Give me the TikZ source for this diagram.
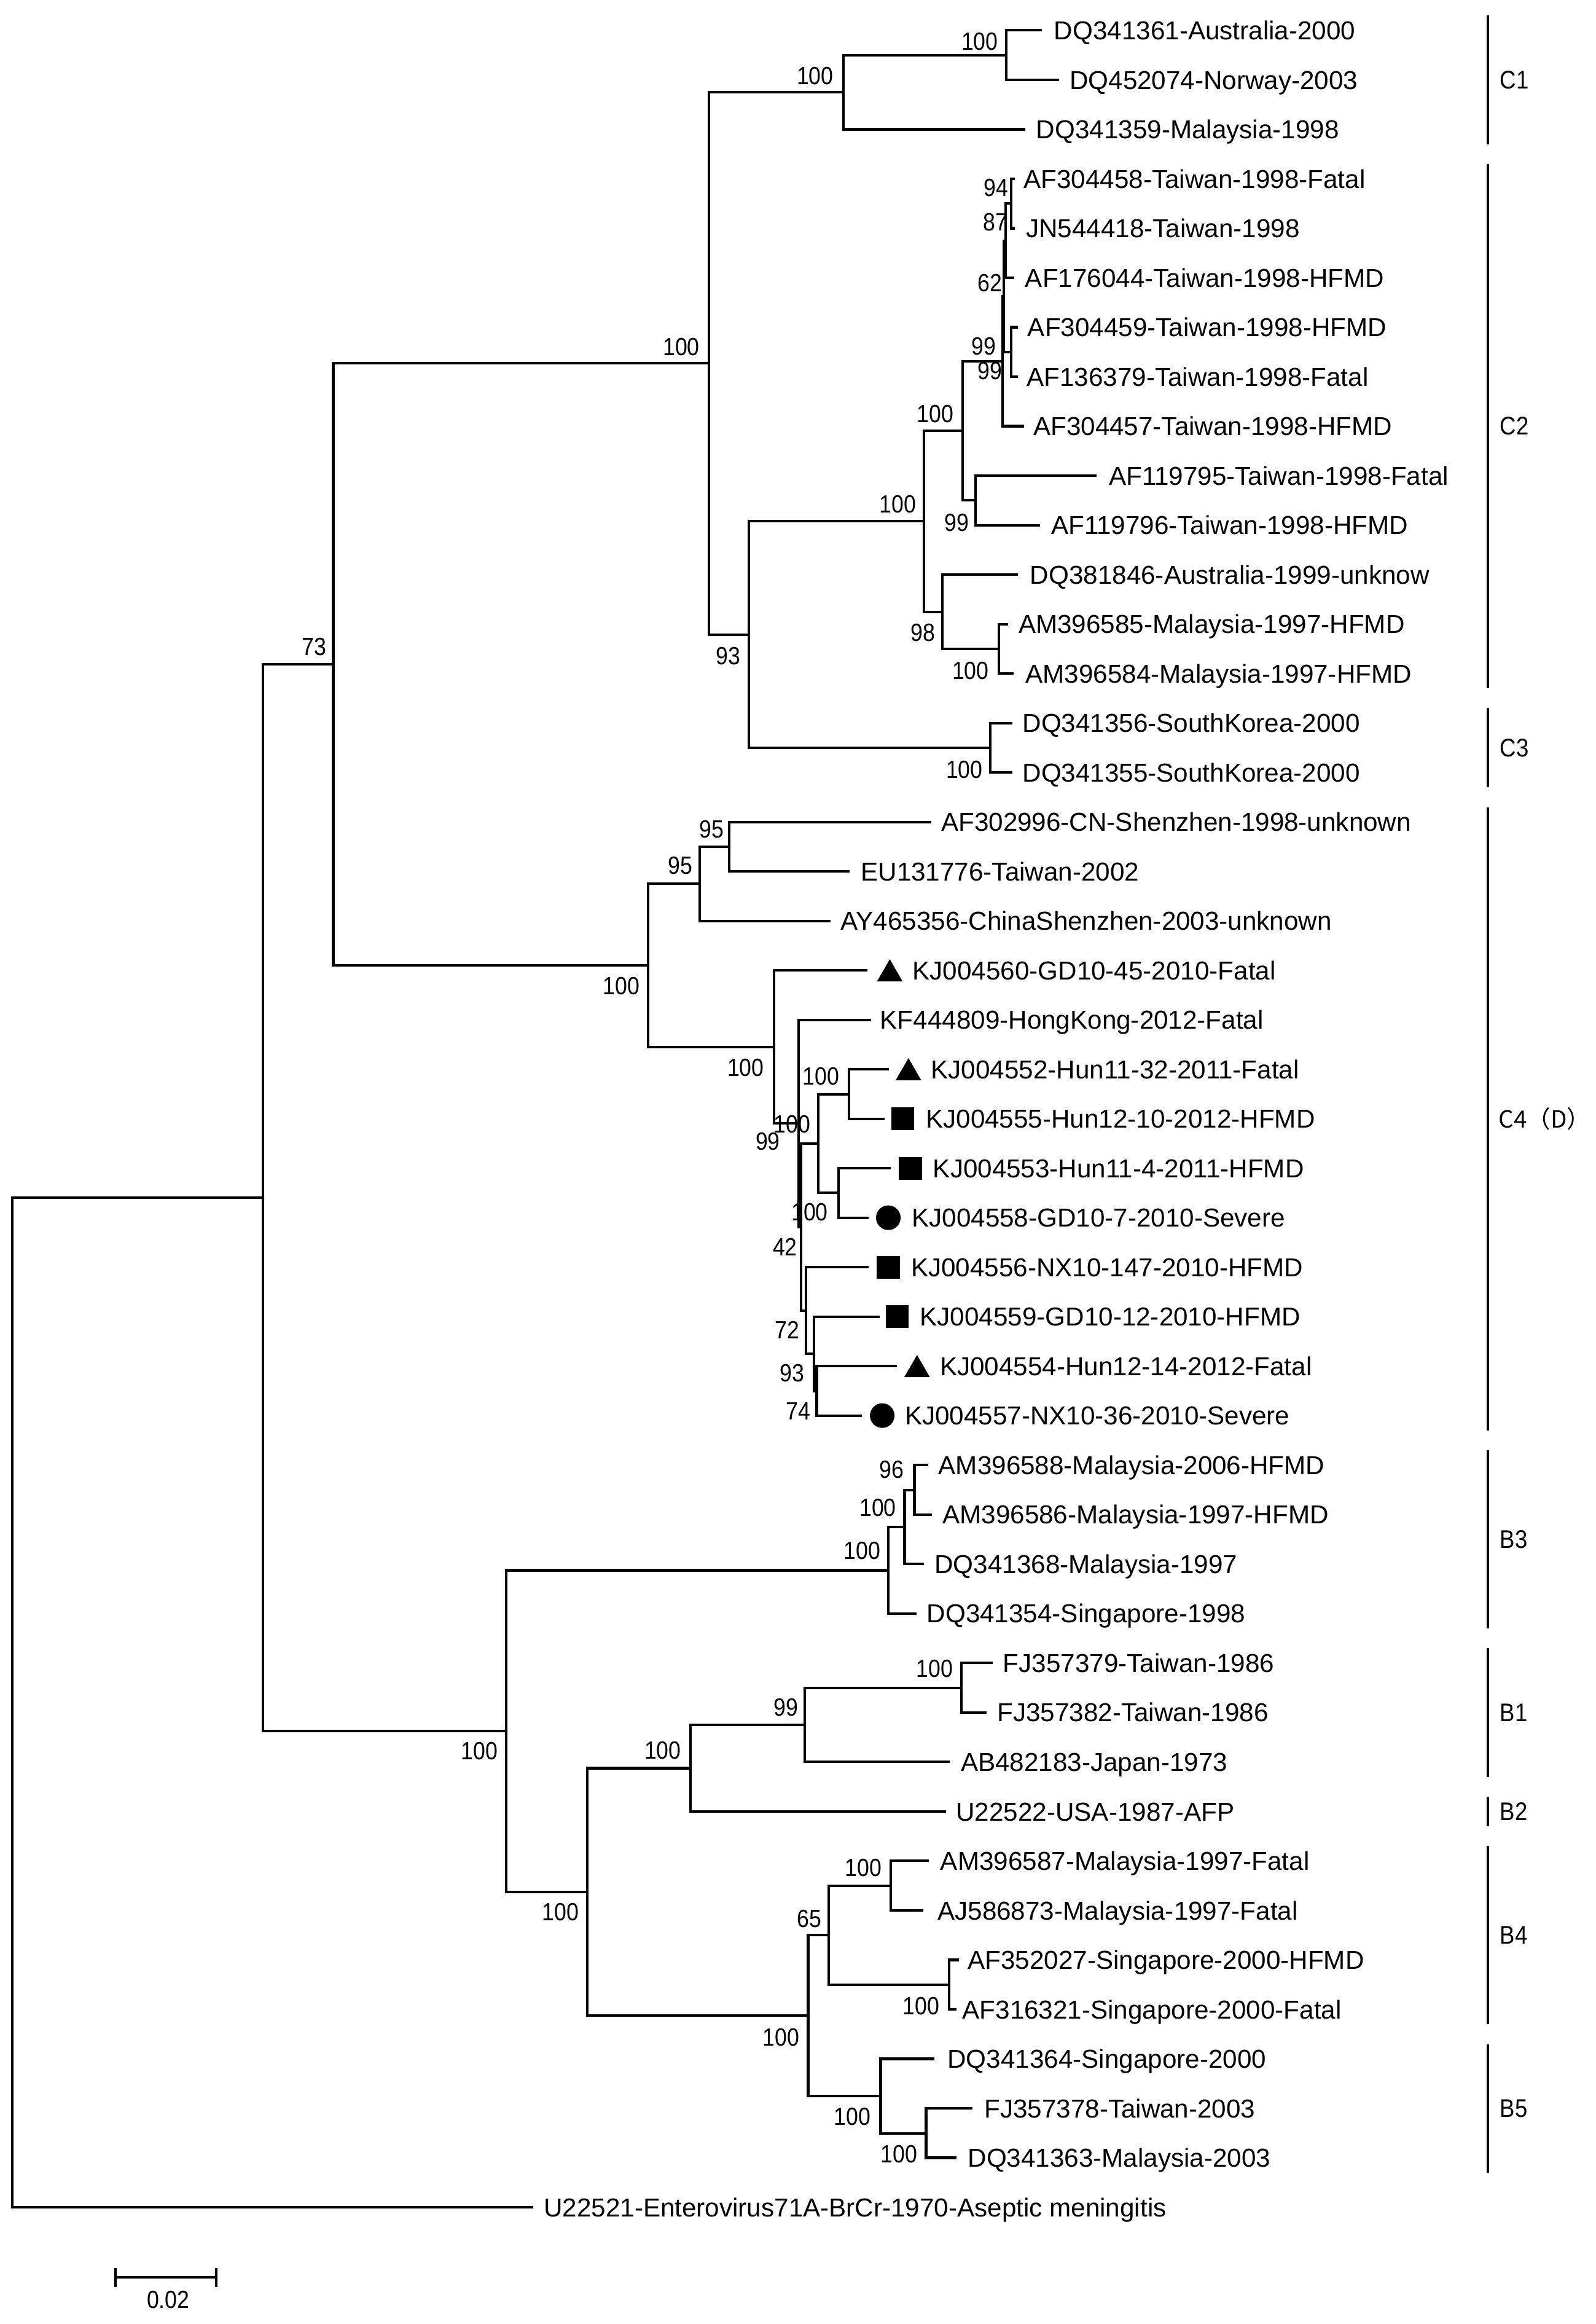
\documentclass[tikz,border=0pt]{standalone}
\usepackage{fontspec}
\setmainfont{Liberation Sans}
\newfontfamily\bsfamily[FakeStretch=0.88]{Liberation Sans}
\newfontfamily\cjkfamily{Noto Sans CJK SC}
\usetikzlibrary{shapes.geometric}
\tikzset{
  br/.style={line width=0.85pt},
  bracket/.style={line width=0.9pt},
  leaf/.style={anchor=base west, inner sep=0pt, yshift=-3.13pt, font={\fontsize{8.75pt}{10pt}\selectfont}},
  bs/.style={anchor=east, inner sep=0pt, font={\bsfamily\fontsize{8.4pt}{9pt}\selectfont}},
  clade/.style={anchor=west, inner sep=0pt, font={\bsfamily\fontsize{8.6pt}{9pt}\selectfont}},
  tri/.style={regular polygon, regular polygon sides=3, fill=black, draw=none, inner sep=0pt, minimum size=10pt},
  sq/.style={rectangle, fill=black, draw=none, inner sep=0pt, minimum size=7.7pt},
  dot/.style={circle, fill=black, draw=none, inner sep=0pt, minimum size=8.3pt}
}
\newcommand\leafrow[6]{%
  \coordinate (e#1) at (#4,{20.5+(#3-1)*33.38});
  \draw[br] (#2) |- (e#1);
  \node[leaf] (t#1) at (#5,{20.5+(#3-1)*33.38}) {#6};}
\newcommand\bsl[4]{\node[bs] (b#1) at (#3,#4) {#2};}
\begin{document}
\begin{tikzpicture}[x=0.5pt,y=-0.5pt]
\useasboundingbox[fill=white] (0,0) rectangle (1077,1568);
% internal nodes
\coordinate (R) at (8.3,1148.65);
\coordinate (N177) at (177.3,808.1);
\coordinate (N73) at (224.9,448.3);
\coordinate (N478) at (478.5,245.2);
\coordinate (C1n) at (569.4,62.3);
\coordinate (C1s) at (679.2,37.2);
\coordinate (N93) at (505.2,428.1);
\coordinate (C2n) at (623.4,351.7);
\coordinate (C2a) at (649.5,290.7);
\coordinate (NT) at (676.7,243.7);
\coordinate (NS) at (677.6,200.0);
\coordinate (N62) at (678.6,162.4);
\coordinate (N87) at (682.5,137.3);
\coordinate (N99b) at (682.6,237.5);
\coordinate (NAF) at (658.4,337.6);
\coordinate (C2b) at (636.1,412.8);
\coordinate (NAM) at (674.2,437.8);
\coordinate (C3n) at (668.5,504.5);
\coordinate (C4n) at (437.3,651.3);
\coordinate (O95) at (472.2,596.3);
\coordinate (I95) at (492.0,571.3);
\coordinate (N1) at (522.5,706.4);
\coordinate (N2) at (539.1,758.0);
\coordinate (N3) at (552.3,771.6);
\coordinate (N4) at (573.0,738.2);
\coordinate (N5) at (566.1,804.9);
\coordinate (N6) at (540.6,827.9);
\coordinate (N7) at (544.0,884.2);
\coordinate (N9) at (549.5,913.4);
\coordinate (N10) at (551.2,938.5);
\coordinate (Bn) at (341.8,1168.0);
\coordinate (B3n) at (599.4,1059.5);
\coordinate (B3a) at (610.5,1030.3);
\coordinate (B3b) at (617.1,1005.2);
\coordinate (B1245) at (396.5,1276.5);
\coordinate (B12o) at (466.0,1193.0);
\coordinate (B12) at (543.1,1163.8);
\coordinate (B1) at (648.9,1138.8);
\coordinate (B45) at (545.4,1360.0);
\coordinate (B4) at (559.4,1305.7);
\coordinate (B4a) at (601.0,1272.3);
\coordinate (B4b) at (640.6,1339.1);
\coordinate (B5) at (594.3,1414.3);
\coordinate (B5a) at (625.0,1439.3);
% internal branches
\draw[br] (R) |- (N177);
\draw[br] (N177) |- (N73);
\draw[br] (N177) |- (Bn);
\draw[br] (N73) |- (N478);
\draw[br] (N73) |- (C4n);
\draw[br] (N478) |- (C1n);
\draw[br] (N478) |- (N93);
\draw[br] (C1n) |- (C1s);
\draw[br] (N93) |- (C2n);
\draw[br] (N93) |- (C3n);
\draw[br] (C2n) |- (C2a);
\draw[br] (C2n) |- (C2b);
\draw[br] (C2a) |- (NT);
\draw[br] (C2a) |- (NAF);
\draw[br] (NT) |- (NS);
\draw[br] (NS) |- (N62);
\draw[br] (NS) |- (N99b);
\draw[br] (N62) |- (N87);
\draw[br] (C2b) |- (NAM);
\draw[br] (C4n) |- (O95);
\draw[br] (C4n) |- (N1);
\draw[br] (O95) |- (I95);
\draw[br] (N1) |- (N2);
\draw[br] (N2) |- (N6);
\draw[br] (N6) |- (N3);
\draw[br] (N6) |- (N7);
\draw[br] (N3) |- (N4);
\draw[br] (N3) |- (N5);
\draw[br] (N7) |- (N9);
\draw[br] (N9) |- (N10);
\draw[br] (Bn) |- (B3n);
\draw[br] (Bn) |- (B1245);
\draw[br] (B3n) |- (B3a);
\draw[br] (B3a) |- (B3b);
\draw[br] (B1245) |- (B12o);
\draw[br] (B1245) |- (B45);
\draw[br] (B12o) |- (B12);
\draw[br] (B12) |- (B1);
\draw[br] (B45) |- (B4);
\draw[br] (B45) |- (B5);
\draw[br] (B4) |- (B4a);
\draw[br] (B4) |- (B4b);
\draw[br] (B5) |- (B5a);
% leaves
\leafrow{1}{C1s}{1}{703}{711}{DQ341361-Australia-2000}
\leafrow{2}{C1s}{2}{714.9}{721.5}{DQ452074-Norway-2003}
\leafrow{3}{C1n}{3}{692}{699}{DQ341359-Malaysia-1998}
\leafrow{4}{N87}{4}{685}{690.5}{AF304458-Taiwan-1998-Fatal}
\leafrow{5}{N87}{5}{685}{692}{JN544418-Taiwan-1998}
\leafrow{6}{N62}{6}{684.3}{691.5}{AF176044-Taiwan-1998-HFMD}
\leafrow{7}{N99b}{7}{687}{693.2}{AF304459-Taiwan-1998-HFMD}
\leafrow{8}{N99b}{8}{687}{692.6}{AF136379-Taiwan-1998-Fatal}
\leafrow{9}{NT}{9}{691.2}{697}{AF304457-Taiwan-1998-HFMD}
\leafrow{10}{NAF}{10}{740}{748}{AF119795-Taiwan-1998-Fatal}
\leafrow{11}{NAF}{11}{702}{709}{AF119796-Taiwan-1998-HFMD}
\leafrow{12}{C2b}{12}{687}{694.8}{DQ381846-Australia-1999-unknow}
\leafrow{13}{NAM}{13}{680.5}{687}{AM396585-Malaysia-1997-HFMD}
\leafrow{14}{NAM}{14}{684}{691.7}{AM396584-Malaysia-1997-HFMD}
\leafrow{15}{C3n}{15}{683.4}{689.7}{DQ341356-SouthKorea-2000}
\leafrow{16}{C3n}{16}{683.4}{689.7}{DQ341355-SouthKorea-2000}
\leafrow{17}{I95}{17}{628.4}{634.8}{AF302996-CN-Shenzhen-1998-unknown}
\leafrow{18}{I95}{18}{573.4}{580.6}{EU131776-Taiwan-2002}
\leafrow{19}{O95}{19}{560.7}{567}{AY465356-ChinaShenzhen-2003-unknown}
\leafrow{20}{N1}{20}{585.5}{615.5}{KJ004560-GD10-45-2010-Fatal}
\leafrow{21}{N2}{21}{587.7}{593.6}{KF444809-HongKong-2012-Fatal}
\leafrow{22}{N4}{22}{600}{628}{KJ004552-Hun11-32-2011-Fatal}
\leafrow{23}{N4}{23}{597}{624.5}{KJ004555-Hun12-10-2012-HFMD}
\leafrow{24}{N5}{24}{601}{629.3}{KJ004553-Hun11-4-2011-HFMD}
\leafrow{25}{N5}{25}{586.4}{615}{KJ004558-GD10-7-2010-Severe}
\leafrow{26}{N7}{26}{586.2}{614.5}{KJ004556-NX10-147-2010-HFMD}
\leafrow{27}{N9}{27}{593.6}{620.5}{KJ004559-GD10-12-2010-HFMD}
\leafrow{28}{N10}{28}{605.5}{634}{KJ004554-Hun12-14-2012-Fatal}
\leafrow{29}{N10}{29}{581.7}{610.3}{KJ004557-NX10-36-2010-Severe}
\leafrow{30}{B3b}{30}{626.4}{633}{AM396588-Malaysia-2006-HFMD}
\leafrow{31}{B3b}{31}{629}{635.7}{AM396586-Malaysia-1997-HFMD}
\leafrow{32}{B3a}{32}{623.7}{630.4}{DQ341368-Malaysia-1997}
\leafrow{33}{B3n}{33}{618.5}{625.1}{DQ341354-Singapore-1998}
\leafrow{34}{B1}{34}{670}{676.6}{FJ357379-Taiwan-1986}
\leafrow{35}{B1}{35}{666}{672.7}{FJ357382-Taiwan-1986}
\leafrow{36}{B12}{36}{641}{648.1}{AB482183-Japan-1973}
\leafrow{37}{B12o}{37}{638.3}{644.9}{U22522-USA-1987-AFP}
\leafrow{38}{B4a}{38}{626.9}{634.3}{AM396587-Malaysia-1997-Fatal}
\leafrow{39}{B4a}{39}{623.2}{632.4}{AJ586873-Malaysia-1997-Fatal}
\leafrow{40}{B4b}{40}{647.3}{652.8}{AF352027-Singapore-2000-HFMD}
\leafrow{41}{B4b}{41}{645.4}{649.1}{AF316321-Singapore-2000-Fatal}
\leafrow{42}{B5}{42}{630.6}{639.1}{DQ341364-Singapore-2000}
\leafrow{43}{B5a}{43}{656.5}{663.9}{FJ357378-Taiwan-2003}
\leafrow{44}{B5a}{44}{645.4}{652.8}{DQ341363-Malaysia-2003}
\leafrow{45}{R}{45}{359.9}{366.6}{U22521-Enterovirus71A-BrCr-1970-Aseptic meningitis}
% markers
\node[tri] (m20) at (600.5,657.2) {};
\node[tri] (m22) at (613.1,723.9) {};
\node[sq]  (m23) at (609.4,754.9) {};
\node[sq]  (m24) at (614.4,788.2) {};
\node[dot] (m25) at (599.5,821.6) {};
\node[sq]  (m26) at (599.5,855.0) {};
\node[sq]  (m27) at (605.6,888.4) {};
\node[tri] (m28) at (618.9,924.2) {};
\node[dot] (m29) at (595.4,955.1) {};
% bootstrap values
\bsl{C1s}{100}{673.9}{28}
\bsl{C1n}{100}{562.8}{51.2}
\bsl{N478}{100}{472.5}{234}
\bsl{N73}{73}{220.5}{436.5}
\bsl{N93}{93}{500}{442.5}
\bsl{C2n}{100}{618.7}{340}
\bsl{C2a}{100}{644}{279.3}
\bsl{NT}{99}{672.6}{233.5}
\bsl{N99b}{99}{676.7}{250.2}
\bsl{NS}{62}{676.7}{191}
\bsl{N62}{87}{680.3}{150}
\bsl{N87}{94}{680.8}{126.5}
\bsl{NAF}{99}{654.2}{352.5}
\bsl{C2b}{98}{631.6}{427}
\bsl{NAM}{100}{667.7}{452.4}
\bsl{C3n}{100}{663.6}{519.5}
\bsl{C4n}{100}{432}{665.2}
\bsl{O95}{95}{467.8}{584}
\bsl{I95}{95}{489}{559.4}
\bsl{N1}{100}{516}{720.5}
\bsl{N2}{99}{526.8}{770}
\bsl{N3}{100}{547.3}{758.5}
\bsl{N4}{100}{566.8}{726}
\bsl{N5}{100}{559.2}{818}
\bsl{N6}{42}{538.4}{841.3}
\bsl{N7}{72}{539.8}{897.4}
\bsl{N9}{93}{543.3}{926.5}
\bsl{N10}{74}{547.3}{952.2}
\bsl{Bn}{100}{336.2}{1181.5}
\bsl{B3n}{100}{594.6}{1046.4}
\bsl{B3a}{100}{605.2}{1017.2}
\bsl{B3b}{96}{610.5}{991.7}
\bsl{B1245}{100}{390.9}{1290}
\bsl{B12o}{100}{460}{1181}
\bsl{B12}{99}{539}{1152}
\bsl{B1}{100}{643.6}{1126}
\bsl{B45}{100}{539.9}{1374.6}
\bsl{B4}{65}{554.7}{1294.5}
\bsl{B4a}{100}{595.4}{1260.3}
\bsl{B4b}{100}{634.3}{1353.6}
\bsl{B5}{100}{588}{1428}
\bsl{B5a}{100}{619.5}{1453.5}
% clade brackets
\coordinate (kC1a) at (1004,10.5);   \coordinate (kC1b) at (1004,97.3);
\coordinate (kC2a) at (1004,110.6);  \coordinate (kC2b) at (1004,464.5);
\coordinate (kC3a) at (1004,477.8);  \coordinate (kC3b) at (1004,531.2);
\coordinate (kC4a) at (1004,544.6);  \coordinate (kC4b) at (1004,965.2);
\coordinate (kB3a) at (1004,978.5);  \coordinate (kB3b) at (1004,1098.7);
\coordinate (kB1a) at (1004,1112.1); \coordinate (kB1b) at (1004,1198.8);
\coordinate (kB2a) at (1004,1212.2); \coordinate (kB2b) at (1004,1232.2);
\coordinate (kB4a) at (1004,1245.6); \coordinate (kB4b) at (1004,1365.8);
\coordinate (kB5a) at (1004,1379.2); \coordinate (kB5b) at (1004,1466.0);
\foreach \k in {C1,C2,C3,C4,B3,B1,B2,B4,B5} {\draw[bracket] (k\k a) -- (k\k b);}
\node[clade] (lC1) at (1012,53.9) {C1};
\node[clade] (lC2) at (1012,287.5) {C2};
\node[clade] (lC3) at (1012,504.5) {C3};
\node[anchor=base west, inner sep=0pt, yshift=-2.95pt, font={\cjkfamily\fontsize{8pt}{9pt}\selectfont}] (lC4) at (1011,754.9) {C4（D）};
\node[clade] (lB3) at (1012,1038.6) {B3};
\node[clade] (lB1) at (1012,1155.5) {B1};
\node[clade] (lB2) at (1012,1222.2) {B2};
\node[clade] (lB4) at (1012,1305.7) {B4};
\node[clade] (lB5) at (1012,1422.6) {B5};
% scale bar
\coordinate (sb1) at (77.8,1536.6);
\coordinate (sb2) at (146,1536.6);
\draw[br] (sb1) -- (sb2);
\draw[br] ([yshift=3.2pt]sb1) -- ([yshift=-3.2pt]sb1);
\draw[br] ([yshift=3.2pt]sb2) -- ([yshift=-3.2pt]sb2);
\node[bs, anchor=center] (sbl) at (113.5,1551.7) {0.02};
\end{tikzpicture}
\end{document}
